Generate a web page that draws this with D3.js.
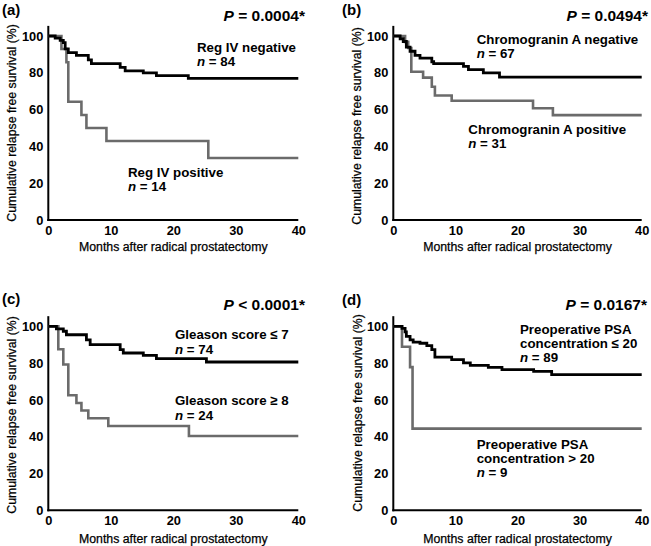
<!DOCTYPE html>
<html>
<head>
<meta charset="utf-8">
<script src="https://cdn.jsdelivr.net/npm/d3@7"></script>
<style>
  html, body { margin: 0; padding: 0; background: #fff; }
  svg { display: block; font-family: "Liberation Sans", Arial, Helvetica, sans-serif; }
</style>
</head>
<body>
<svg id="chart" width="651" height="546"></svg>
<script>
// ---------------- DATA ----------------
const xTicks = [0, 10, 20, 30, 40];
const yTicks = [0, 20, 40, 60, 80, 100];
const xTitle = "Months after radical prostatectomy";
const yTitle = "Cumulative relapse free survival (%)";

// (a) Reg IV
const aNegMonths = [0, 1.1, 1.9, 2.4, 2.7, 3.2, 4.5, 6.4, 6.9, 11.5, 12.3, 15.2, 17.3, 22.4, 40];
const aNegSurv   = [100, 98.8, 97.6, 96.4, 93, 91, 89.5, 87, 85, 83, 81, 80, 78.5, 77, 77];
const aPosMonths = [0, 2.1, 2.9, 3.2, 5.3, 6.1, 9.3, 25.6, 40];
const aPosSurv   = [100, 92.9, 85.7, 64.3, 57.1, 50, 42.9, 33.7, 33.7];

// (b) Chromogranin A
const bNegMonths = [0, 1.1, 1.6, 2.1, 2.7, 3.5, 4.3, 6.2, 6.5, 11.3, 12.1, 14.5, 17.1, 40];
const bNegSurv   = [100, 98.5, 97, 94, 91.7, 89.5, 88, 86, 85, 83.5, 81.7, 80, 77.6, 77.6];
const bPosMonths = [0, 1.9, 2.4, 2.9, 4.8, 6.2, 6.7, 9.4, 22.5, 25.7, 40];
const bPosSurv   = [100, 96.8, 93.5, 80.6, 77.4, 72.4, 67.7, 64.8, 60.7, 57, 57];

// (c) Gleason score
const cLowMonths  = [0, 1.3, 2.4, 2.9, 6.1, 6.7, 11.5, 12.0, 15.2, 17.3, 25.3, 40];
const cLowSurv    = [100, 98.6, 97.3, 95.4, 92.6, 90, 87.3, 85.5, 84.2, 82.4, 80.6, 80.6];
const cHighMonths = [0, 1.6, 2.4, 3.2, 4.5, 5.3, 6.4, 9.6, 22.5, 40];
const cHighSurv   = [100, 87.5, 79.2, 62.5, 58.3, 54.2, 50, 45.8, 40.4, 40.4];

// (d) Preoperative PSA
const dLowMonths  = [0, 1.4, 1.9, 2.1, 2.7, 3.2, 4.3, 5.4, 6.2, 6.7, 9.4, 11.3, 12.4, 15.3, 17.5, 22.6, 25.5, 40];
const dLowSurv    = [100, 98.9, 97, 94.5, 92.6, 91.4, 90.8, 89.5, 87.3, 83.2, 81.9, 80.1, 78.8, 77.7, 76.4, 75.5, 73.7, 73.7];
const dHighMonths = [0, 1.4, 2.7, 3.1, 40];
const dHighSurv   = [100, 88.9, 77.8, 44.4, 44.4];

const panelLetters = ["(a)", "(b)", "(c)", "(d)"];
const pPrefix = ["=", "=", "<", "="];
const pValues = ["0.0004*", "0.0494*", "0.0001*", "0.0167*"];
const groupLabels = [
  [["Reg IV negative"], "84", ["Reg IV positive"], "14"],
  [["Chromogranin A negative"], "67", ["Chromogranin A positive"], "31"],
  [["Gleason score \u2264 7"], "74", ["Gleason score \u2265 8"], "24"],
  [["Preoperative PSA", "concentration \u2264 20"], "89", ["Preoperative PSA", "concentration > 20"], "9"]
];

// ---------------- LAYOUT ----------------
const panels = [
  { left: 48.3, right: 298.3, bottom: 220, top: 36, letter: [2, 15], p: [305, 21],
    lab1: [197, 51.5, 14], lab2: [128, 176.5, 14], yTitle: [12, 123], xTitleY: 251,
    black: [aNegMonths, aNegSurv], gray: [aPosMonths, aPosSurv] },
  { left: 393.3, right: 641.7, bottom: 220, top: 36, letter: [342, 15], p: [648, 21],
    lab1: [476.7, 44, 14], lab2: [468.3, 133.5, 14], yTitle: [357, 126], xTitleY: 251,
    black: [bNegMonths, bNegSurv], gray: [bPosMonths, bPosSurv] },
  { left: 48.3, right: 298.3, bottom: 510.3, top: 326.3, letter: [2, 304], p: [305, 310],
    lab1: [175, 339, 14.5], lab2: [175, 405, 14.5], yTitle: [12, 415], xTitleY: 543,
    black: [cLowMonths, cLowSurv], gray: [cHighMonths, cHighSurv] },
  { left: 393.3, right: 641.7, bottom: 510.3, top: 326.3, letter: [342, 304.5], p: [647, 310],
    lab1: [520, 333.5, 14], lab2: [476.7, 448.5, 14], yTitle: [358, 413], xTitleY: 543,
    black: [dLowMonths, dLowSurv], gray: [dHighMonths, dHighSurv] }
];

const svg = d3.select("#chart");
const GRAY = "#6b6b6b";

panels.forEach((pn, i) => {
  const x = d3.scaleLinear().domain([0, 40]).range([pn.left, pn.right]);
  const y = d3.scaleLinear().domain([0, 100]).range([pn.bottom, pn.top]);
  const g = svg.append("g");

  // axes
  const xAxis = g.append("g").attr("transform", `translate(0,${pn.bottom})`)
    .call(d3.axisBottom(x).tickValues(xTicks).tickSize(0).tickPadding(6));
  const yAxis = g.append("g").attr("transform", `translate(${pn.left},0)`)
    .call(d3.axisLeft(y).tickValues(yTicks).tickSize(0).tickPadding(5));
  [xAxis, yAxis].forEach(ax => {
    ax.select(".domain").remove();
    ax.selectAll("text").attr("font-size", 12.8).attr("font-weight", "bold")
      .attr("fill", "#000").attr("font-family", null);
  });
  // axis lines (y extends slightly above 100)
  g.append("line").attr("x1", pn.left).attr("x2", pn.left)
    .attr("y1", y(0) + 1).attr("y2", y(105.5))
    .attr("stroke", "#000").attr("stroke-width", 2);
  g.append("line").attr("x1", pn.left - 1).attr("x2", x(40))
    .attr("y1", y(0)).attr("y2", y(0))
    .attr("stroke", "#000").attr("stroke-width", 2);

  // titles
  g.append("text").attr("x", (pn.left + pn.right) / 2).attr("y", pn.xTitleY)
    .attr("text-anchor", "middle").attr("font-size", 12.3).attr("fill", "#000")
    .attr("stroke", "#000").attr("stroke-width", 0.25)
    .text(xTitle);
  g.append("text").attr("transform", `translate(${pn.yTitle[0]},${pn.yTitle[1]}) rotate(-90)`)
    .attr("text-anchor", "middle").attr("dy", "0.35em").attr("font-size", 12.3).attr("fill", "#000")
    .attr("stroke", "#000").attr("stroke-width", 0.25)
    .text(yTitle);

  // curves
  const line = d3.line().x(d => x(d[0])).y(d => y(d[1])).curve(d3.curveStepAfter);
  const grayData = d3.zip(pn.gray[0], pn.gray[1]);
  const blackData = d3.zip(pn.black[0], pn.black[1]);
  g.append("path").datum(grayData).attr("d", line)
    .attr("fill", "none").attr("stroke", GRAY).attr("stroke-width", 2.6);
  g.append("path").datum(blackData).attr("d", line)
    .attr("fill", "none").attr("stroke", "#000").attr("stroke-width", 2.8);

  // panel letter
  g.append("text").attr("x", pn.letter[0]).attr("y", pn.letter[1])
    .attr("font-size", 15).attr("font-weight", "bold").text(panelLetters[i]);
  // p value
  const pt = g.append("text").attr("x", pn.p[0]).attr("y", pn.p[1])
    .attr("text-anchor", "end").attr("font-size", 15.5).attr("font-weight", "bold");
  pt.append("tspan").attr("font-style", "italic").text("P");
  pt.append("tspan").text(" " + pPrefix[i] + " " + pValues[i]);

  // group labels
  const lbl = groupLabels[i];
  [[pn.lab1, lbl[0], lbl[1]], [pn.lab2, lbl[2], lbl[3]]].forEach(([pos, lines, n]) => {
    const t = g.append("text").attr("font-size", 13.3).attr("font-weight", "bold");
    lines.forEach((s, k) => {
      t.append("tspan").attr("x", pos[0]).attr("y", pos[1] + k * pos[2]).text(s);
    });
    const nt = t.append("tspan").attr("x", pos[0]).attr("y", pos[1] + lines.length * pos[2]);
    nt.append("tspan").attr("font-style", "italic").text("n");
    nt.append("tspan").text(" = " + n);
  });
});
</script>
</body>
</html>
